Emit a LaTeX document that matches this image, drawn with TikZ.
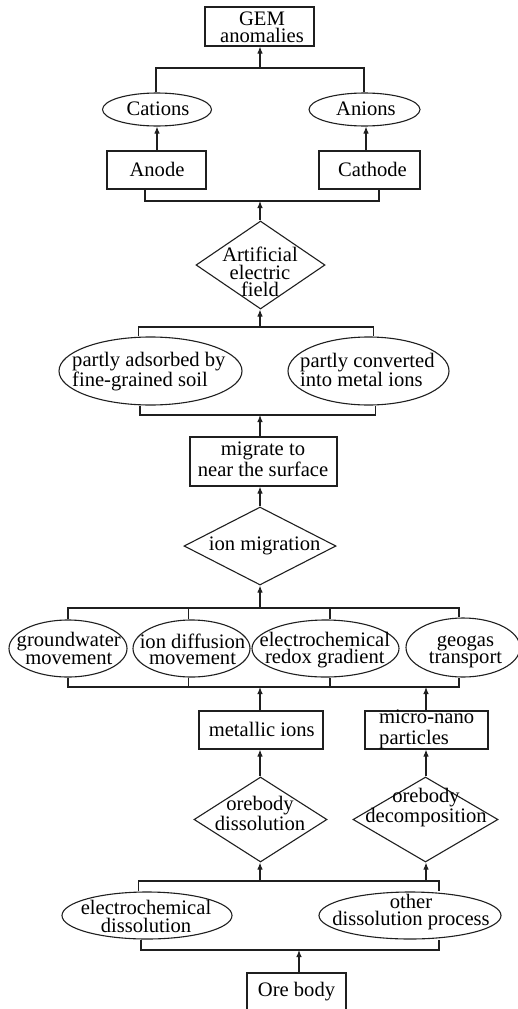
\documentclass[tikz,border=0pt]{standalone}
\usepackage{fontspec}
\setmainfont{Liberation Serif}
\usetikzlibrary{shapes.geometric,arrows.meta}
\tikzset{
  ln/.style={line width=1.1pt, draw=black!88},
  arr/.style={ln, -{Latex[length=7pt,width=5.5pt]}},
  boxn/.style={ln, draw, rectangle, inner sep=0pt},
  elln/.style={ln, draw, ellipse, inner sep=0pt},
  dian/.style={ln, draw, diamond, inner sep=0pt},
  lbl/.style={inner sep=0pt, anchor=base, align=center, font=\fontsize{20.6}{#1}\selectfont, text=black},
  lbl/.default=19,
  lbll/.style={inner sep=0pt, anchor=base west, align=left, font=\fontsize{20.6}{#1}\selectfont, text=black},
  lbll/.default=19
}
\begin{document}
\begin{tikzpicture}[x=1pt,y=-1pt]
\useasboundingbox (0,0) rectangle (518,1009);
\clip (0,0) rectangle (518,1009);
\fill[white] (0,0) rectangle (518,1009);

% ---------------- shapes ----------------
\node[boxn, minimum width=109, minimum height=39] (gem) at (259.5,26.5) {};
\node[elln, minimum width=109, minimum height=33] (cat) at (157,109.5) {};
\node[elln, minimum width=111, minimum height=33] (ani) at (364.5,109.5) {};
\node[boxn, minimum width=99, minimum height=38] (anode) at (156.5,170) {};
\node[boxn, minimum width=101, minimum height=38] (cathode) at (369.5,170) {};
\node[dian, minimum width=129, minimum height=88] (afield) at (260.5,265) {};
\node[elln, minimum width=183, minimum height=68] (pads) at (150.5,371) {};
\node[elln, minimum width=161, minimum height=68] (pconv) at (368.5,371) {};
\node[boxn, minimum width=147, minimum height=49] (migr) at (263.5,461.5) {};
\node[dian, minimum width=152, minimum height=78] (ionm) at (260,546) {};
\node[elln, minimum width=118, minimum height=57] (gw) at (68,648.5) {};
\node[elln, minimum width=117, minimum height=57] (idiff) at (191.5,648.5) {};
\node[elln, minimum width=147, minimum height=57] (redox) at (325.5,648.5) {};
\node[elln, minimum width=114, minimum height=59] (geo) at (463,647.5) {};
\node[boxn, minimum width=124, minimum height=38] (metal) at (261,730) {};
\node[boxn, minimum width=123, minimum height=38] (micro) at (426.5,730) {};
\node[dian, minimum width=133, minimum height=85] (odis) at (260.5,819.5) {};
\node[dian, minimum width=145, minimum height=85] (odec) at (425.5,819.5) {};
\node[elln, minimum width=170, minimum height=47] (ecd) at (147,915.5) {};
\node[elln, minimum width=182, minimum height=47] (odp) at (410,915.5) {};
\node[boxn, minimum width=99, minimum height=44] (ore) at (296.5,995) {};

% ---------------- labels (anchored at the last line's baseline) ----------------
\node[lbl=17] (tgem) at (262,42) {GEM\\anomalies};
\node[lbl] (tcat) at (158,115.5) {Cations};
\node[lbl] (tani) at (366,115.5) {Anions};
\node[lbl] (tanode) at (157,176.7) {Anode};
\node[lbl] (tcath) at (372.5,176.7) {Cathode};
\node[lbl=17.5] (tafield) at (260,296.7) {Artificial\\electric\\field};
\node[lbll=19.3] (tpads) at (72,386) {partly adsorbed by\\fine-grained soil};
\node[lbll=19.3] (tpconv) at (300,386.3) {partly converted\\into metal ions};
\node[lbl=21] (tmigr) at (263,476) {migrate to\\near the surface};
\node[lbl] (tionm) at (264.7,550) {ion migration};
\node[lbl=17.6] (tgw) at (68.8,664.3) {groundwater\\movement};
\node[lbl=16] (tidiff) at (192.5,664.3) {ion diffusion\\movement};
\node[lbl=16.6] (tredox) at (324.8,663.3) {electrochemical\\redox gradient};
\node[lbl=16.6] (tgeo) at (465.5,663.3) {geogas\\transport};
\node[lbl] (tmetal) at (261.7,736) {metallic ions};
\node[lbll=20.7] (tmicro) at (379,744) {micro-nano\\particles};
\node[lbl=17.7] (todis) at (260,830) {orebody\\dissolution};
\node[lbl=16.7] (todec) at (426,822.7) {orebody\\decomposition};
\node[lbl=18.3] (tecd) at (146,932.3) {electrochemical\\dissolution};
\node[lbl=17.4] (todp) at (411,925.7) {other\\dissolution process};
\node[lbl] (tore) at (296.5,996) {Ore body};

% ---------------- connectors ----------------
% top bracket to GEM
\coordinate (j1l) at (156,68);
\coordinate (j1r) at (364,68);
\coordinate (j1) at (260,68);
\draw[ln] (j1l |- cat.north) -- (j1l) -- (j1r) -- (j1r |- ani.north);
\draw[arr] (j1) -- (j1 |- gem.south);
\draw[arr] (anode.north -| cat.south) -- (cat.south);
\coordinate (ja) at (366,0);
\draw[arr] (ja |- cathode.north) -- (ja |- ani.south);
% anode/cathode bracket
\coordinate (j2l) at (145,201);
\coordinate (j2r) at (379,201);
\coordinate (j2) at (260,201);
\draw[ln] (j2l |- anode.south) -- (j2l) -- (j2r) -- (j2r |- cathode.south);
\draw[arr] (j2 |- afield.north) -- (j2);
% ellipses above afield
\coordinate (j3l) at (138.5,327);
\coordinate (j3r) at (373.5,327);
\coordinate (j3) at (260,327);
\draw[ln] (j3l |- pads.north) -- (j3l) -- (j3r) -- (j3r |- pconv.north);
\draw[arr] (j3) -- (j3 |- afield.south);
\coordinate (j4l) at (140,415);
\coordinate (j4r) at (375.5,415);
\coordinate (j4) at (260,415);
\draw[ln] (j4l |- pads.south) -- (j4l) -- (j4r) -- (j4r |- pconv.south);
\draw[arr] (j4 |- migr.north) -- (j4);
\draw[arr] (ionm.north) -- (ionm.north |- migr.south);
% four ellipses
\coordinate (j5a) at (68,608);
\coordinate (j5b) at (188.5,608);
\coordinate (j5c) at (330,608);
\coordinate (j5d) at (459,608);
\coordinate (j5) at (260,608);
\draw[ln] (j5a |- gw.north) -- (j5a) -- (j5d) -- (j5d |- geo.north);
\draw[ln] (j5b) -- (j5b |- idiff.north);
\draw[ln] (j5c) -- (j5c |- redox.north);
\draw[arr] (j5) -- (ionm.south);
\coordinate (j6a) at (68,687);
\coordinate (j6b) at (188.5,687);
\coordinate (j6c) at (330,687);
\coordinate (j6d) at (459,687);
\coordinate (j6) at (260,687);
\coordinate (j6m) at (426,687);
\draw[ln] (j6a |- gw.south) -- (j6a) -- (j6d) -- (j6d |- geo.south);
\draw[ln] (j6b) -- (j6b |- idiff.south);
\draw[ln] (j6c) -- (j6c |- redox.south);
\draw[arr] (j6 |- metal.north) -- (j6);
\draw[arr] (j6m |- micro.north) -- (j6m);
\draw[arr] (j6 |- odis.north) -- (j6 |- metal.south);
\draw[arr] (j6m |- odec.north) -- (j6m |- micro.south);
% dissolution bracket
\coordinate (j7l) at (138.5,881);
\coordinate (j7r) at (439,881);
\coordinate (j7) at (260,881);
\coordinate (j7m) at (426,881);
\draw[ln] (j7l |- ecd.north) -- (j7l) -- (j7r) -- (j7r |- odp.north);
\draw[arr] (j7) -- (j7 |- odis.south);
\draw[arr] (j7m) -- (j7m |- odec.south);
\coordinate (j8l) at (141,950);
\coordinate (j8r) at (439,950);
\coordinate (j8) at (299,950);
\draw[ln] (j8l |- ecd.south) -- (j8l) -- (j8r) -- (j8r |- odp.south);
\draw[arr] (j8 |- ore.north) -- (j8);
\end{tikzpicture}
\end{document}
